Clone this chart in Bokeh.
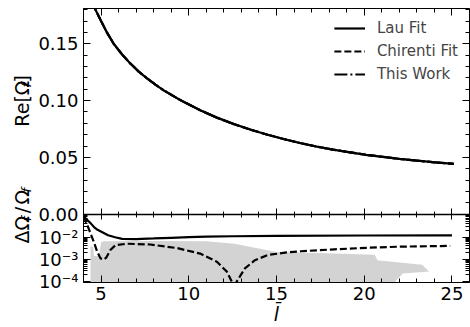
import numpy as np
from bokeh.plotting import figure
from bokeh.layouts import row
from bokeh.models import (Range1d, LogScale, LinearAxis, LogAxis, FixedTicker,
                          CustomJSTickFormatter, Label, Legend, LegendItem)
from bokeh.embed import file_html
from bokeh.resources import INLINE

# ---------------- data ----------------
# upper panel: Re[Omega_f] vs l-bar (the three fits overlap at this scale)
l_fit = [4.3, 4.68, 5.0, 5.35, 5.72, 6.2, 6.68, 7.15, 7.62, 8.1, 8.57, 9.51,
         10.65, 11.6, 12.54, 13.5, 14.44, 15.4, 16.33, 17.3, 18.22, 20.1,
         22.0, 23.9, 25.1]
re_omega = [0.193, 0.180, 0.170, 0.1595, 0.150, 0.1405, 0.1325, 0.1255,
            0.1195, 0.1140, 0.1090, 0.1005, 0.0915, 0.0850, 0.0795, 0.0745,
            0.0702, 0.0662, 0.0627, 0.0595, 0.0568, 0.0523, 0.0487, 0.0458,
            0.0443]

# lower panel: relative differences
l_lau = [4.0, 4.2, 4.4, 4.6, 4.8, 5.1, 5.4, 5.8, 6.2, 7.0, 8.0, 9.0, 10.0,
         11.0, 12.5, 15.0, 20.0, 25.0]
rel_lau = [0.085, 0.060, 0.042, 0.028, 0.021, 0.016, 0.012, 0.0098, 0.0082,
           0.0081, 0.0086, 0.0092, 0.0098, 0.0103, 0.0108, 0.0113, 0.0117, 0.0119]

l_chir = [4.0, 4.3, 4.59, 4.78, 4.97, 5.15, 5.3, 5.53, 5.82, 6.48, 7.8, 9.32,
          10.65, 11.6, 12.17, 12.45, 12.6, 12.73, 13.2, 13.77, 14.5, 15.48,
          16.4, 18.3, 20.2, 22.1, 24.9]
rel_chir = [0.085, 0.0234, 0.0060, 0.0022, 0.0011, 0.00098, 0.0012, 0.0026,
            0.0043, 0.0050, 0.0046, 0.0032, 0.0018, 0.00078, 0.00028, 0.0001,
            0.000005, 0.0001, 0.00039, 0.00091, 0.00155, 0.0020, 0.0023,
            0.0028, 0.0033, 0.0037, 0.0040]

# grey band (numerical spread)
band_l = [4.4, 4.55, 4.6, 4.9, 5.0, 5.2, 8.0, 11.0, 12.6, 15.0, 18.3, 20.6,
          20.75, 23.3, 23.7, 22.2, 21.4, 4.4]
band_rel = [4.0e-3, 3.5e-3, 1.4e-3, 1.4e-3, 6.0e-3, 6.4e-3, 6.6e-3, 6.4e-3,
            5.0e-3, 2.15e-3, 1.8e-3, 1.58e-3, 9.1e-4, 5.7e-4, 2.8e-4, 2.3e-4,
            5e-5, 5e-5]

x_major = [5, 10, 15, 20, 25]
x_minor = [4, 6, 7, 8, 9, 11, 12, 13, 14, 16, 17, 18, 19, 21, 22, 23, 24, 26]
y_major = [0.0, 0.05, 0.10, 0.15]
y_minor = [0.01, 0.02, 0.03, 0.04, 0.06, 0.07, 0.08, 0.09, 0.11, 0.12, 0.13,
           0.14, 0.16, 0.17, 0.18]
rel_major = [1e-4, 1e-3, 1e-2]
rel_minor = [k * 10.0 ** e for e in (-4, -3, -2) for k in range(2, 10)]

# ---------------- layout ----------------
W, H = 470, 327
TW = 33                              # strip holding the rotated y titles
FL, FR, FT, FB = 50, 1, 8, 42
split_px = 208                       # height of upper panel
frame_h = H - FT - FB
bottom_h = frame_h - split_px

x_lo, x_hi = 4, 26
top_max = 0.181
rel_lo, rel_hi = 9.1e-5, 0.105
y_lo = -top_max * bottom_h / split_px
lmin = np.log10(rel_lo)
dec = np.log10(rel_hi) - lmin
lmax = np.log10(rel_hi) + dec * split_px / bottom_h
rel_top = 10 ** lmax


def rel_to_primary(v):
    """position of a lower-panel (log) value on the shared linear axis"""
    return y_lo + (np.log10(v) - lmin) / (lmax - lmin) * (top_max - y_lo)


p = figure(width=W - TW, height=H, x_range=Range1d(x_lo, x_hi),
           y_range=Range1d(y_lo, top_max), output_backend="svg",
           toolbar_location=None, x_axis_type=None, y_axis_type=None,
           min_border_left=FL, min_border_right=FR, min_border_top=FT,
           min_border_bottom=FB)
p.extra_y_ranges = {"rel": Range1d(rel_lo, rel_top)}
p.extra_y_scales = {"rel": LogScale()}
p.outline_line_color = "black"
p.outline_line_width = 1
p.background_fill_color = "white"
p.border_fill_color = "white"

FONT = "DejaVu Sans"


def style(ax, labels=False, tin=7, tout=0, mtin=4, mtout=0):
    ax.major_tick_in = tin
    ax.major_tick_out = tout
    ax.minor_tick_in = mtin
    ax.minor_tick_out = mtout
    for a in ("major_tick_line_color", "minor_tick_line_color", "axis_line_color"):
        setattr(ax, a, "black")
    ax.major_tick_line_width = 1
    ax.minor_tick_line_width = 1
    ax.axis_line_width = 1
    ax.major_label_text_font = FONT
    ax.major_label_text_font_size = "18px"
    ax.major_label_text_color = "black" if labels else None


xt = FixedTicker(ticks=x_major, minor_ticks=x_minor)
yt = FixedTicker(ticks=y_major, minor_ticks=y_minor)
rt = FixedTicker(ticks=rel_major, minor_ticks=rel_minor)
left_t = FixedTicker(
    ticks=y_major + [float(rel_to_primary(v)) for v in rel_major],
    minor_ticks=y_minor + [float(rel_to_primary(v)) for v in rel_minor])

left_fmt = CustomJSTickFormatter(
    args=dict(y_lo=float(y_lo), top_max=top_max, lmin=float(lmin), lmax=float(lmax)),
    code="""
if (tick >= -1e-9) return tick.toFixed(2);
const sup = {"-":"\u207b","0":"\u2070","1":"\u00b9","2":"\u00b2","3":"\u00b3",
             "4":"\u2074","5":"\u2075","6":"\u2076","7":"\u2077","8":"\u2078","9":"\u2079"};
const f = (tick - y_lo) / (top_max - y_lo);
const e = Math.round(lmin + f * (lmax - lmin));
return "10" + String(e).split("").map(c => sup[c]).join("");
""")

ax_b = LinearAxis(ticker=xt)
style(ax_b, labels=True)
ax_b.major_label_standoff = 4
ax_b.axis_label = "l\u0304"
ax_b.axis_label_text_font = FONT
ax_b.axis_label_text_font_size = "19px"
ax_b.axis_label_text_font_style = "italic"
ax_b.axis_label_text_color = "black"
ax_b.axis_label_standoff = 0
p.add_layout(ax_b, "below")

ax_mid = LinearAxis(ticker=xt, fixed_location=0)
style(ax_mid, tin=6, tout=5, mtin=3, mtout=3)
ax_mid.axis_line_width = 1.5
p.add_layout(ax_mid, "below")

ax_t = LinearAxis(ticker=xt, fixed_location=top_max)
style(ax_t)
p.add_layout(ax_t, "above")

ax_l = LinearAxis(ticker=left_t, formatter=left_fmt)
style(ax_l, labels=True)
ax_l.major_label_standoff = 5
p.add_layout(ax_l, "left")

ax_r = LinearAxis(ticker=yt, fixed_location=x_hi)
style(ax_r)
p.add_layout(ax_r, "right")

ax_rr = LogAxis(ticker=rt, fixed_location=x_hi, y_range_name="rel")
style(ax_rr)
p.add_layout(ax_rr, "right")

# ---------------- glyphs ----------------
LW = 2.2
r_this = p.line(l_fit, re_omega, line_color="black", line_width=LW,
                line_dash="13 3 2 3")
r_chir = p.line(l_fit, re_omega, line_color="black", line_width=LW,
                line_dash="7 3")
r_lau = p.line(l_fit, re_omega, line_color="black", line_width=LW)

p.patch(band_l, band_rel, fill_color="#d3d3d3", line_color=None,
        y_range_name="rel")
p.line(l_chir, rel_chir, line_color="black", line_width=LW, line_dash="7 3",
       y_range_name="rel")
p.line(l_lau, rel_lau, line_color="black", line_width=LW, y_range_name="rel")

legend = Legend(items=[LegendItem(label="Lau Fit", renderers=[r_lau]),
                       LegendItem(label="Chirenti Fit", renderers=[r_chir]),
                       LegendItem(label="This Work", renderers=[r_this])],
                location="top_right", margin=0, padding=11, spacing=5,
                glyph_width=31, glyph_height=18, label_height=18,
                label_standoff=12, label_text_font=FONT,
                label_text_font_size="15px", border_line_alpha=0,
                background_fill_alpha=0)
p.add_layout(legend)

# ---------------- y titles: a narrow strip whose coordinates are pixels ----------------
t = figure(width=TW, height=H, x_range=Range1d(0, TW), y_range=Range1d(H, 0),
           output_backend="svg", toolbar_location=None, x_axis_type=None,
           y_axis_type=None, min_border=0)
t.outline_line_color = None
t.background_fill_color = "white"
t.border_fill_color = "white"


def piece(text, px, py, size, italic=False):
    # px = horizontal centre of the (rotated) line box, py = start of the text
    t.add_layout(Label(x=px, y=py, text=text, angle=90, angle_units="deg",
                       text_font=FONT, text_font_size=f"{size}px",
                       text_font_style="italic" if italic else "normal",
                       text_align="left", text_baseline="middle",
                       text_color="black"))


# Re[Ω_f]
piece("Re[\u03a9", 21.4, 141, 19)
piece("f", 26, 94.2, 13, italic=True)
piece("]", 21.4, 88.4, 19)
# ΔΩ_f/Ω_f
piece("\u0394\u03a9", 21.4, 280.5, 19)
piece("f", 26, 253.5, 13, italic=True)
piece("/", 21.4, 244.5, 19)
piece("\u03a9", 21.4, 234, 19)
piece("f", 26, 219.5, 13, italic=True)

layout = row(t, p)
open("out.html", "w").write(file_html(layout, INLINE))
